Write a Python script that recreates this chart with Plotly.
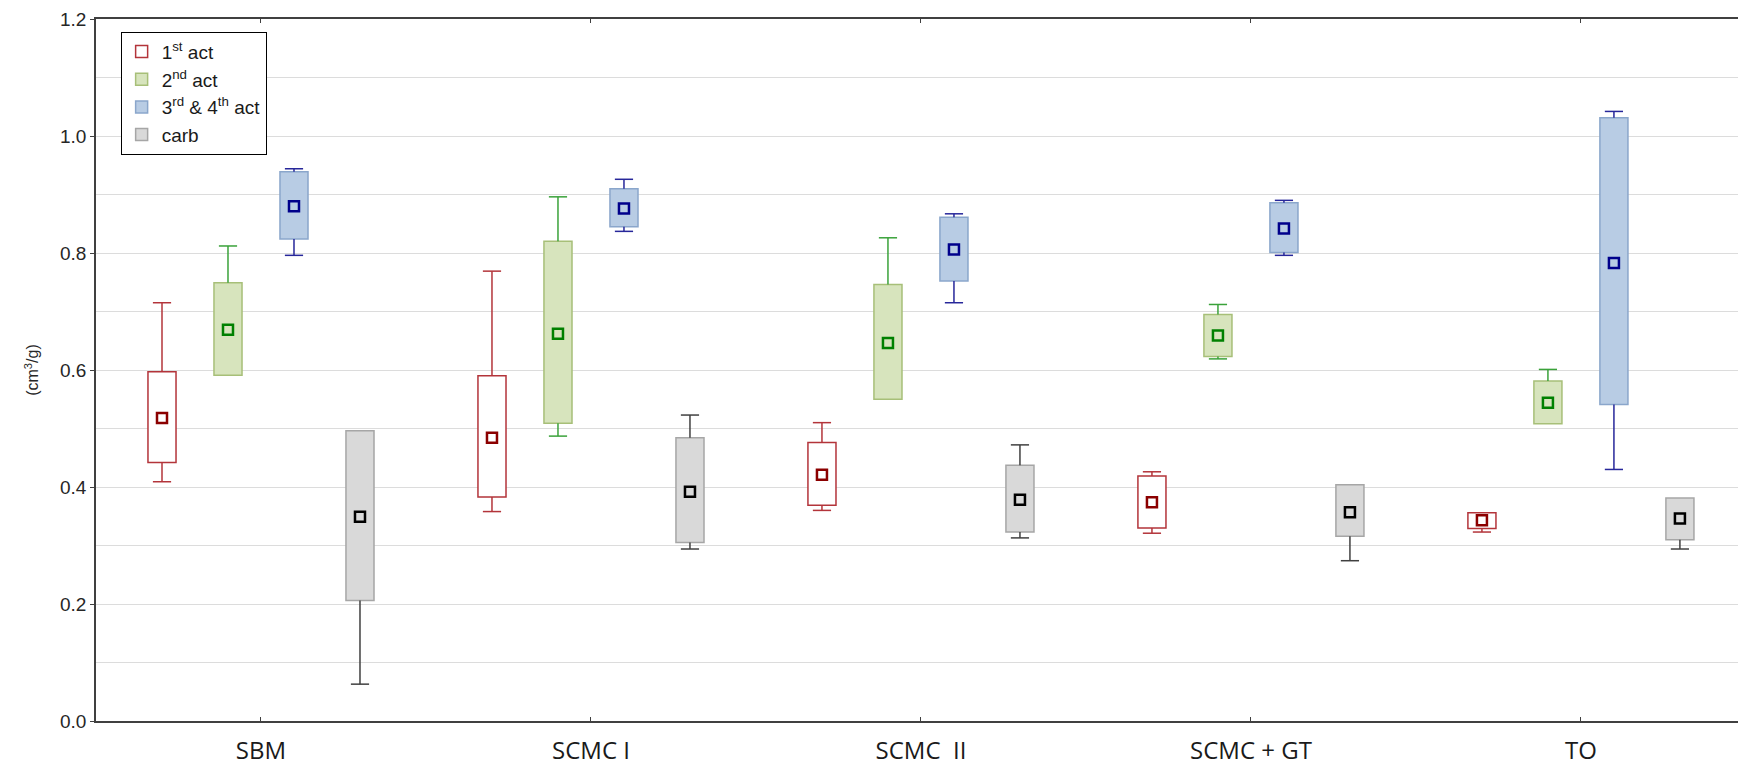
import plotly.graph_objects as go

categories = ["SBM", "SCMC I", "SCMC  II", "SCMC + GT", "TO"]
series_names = ["1<sup>st</sup> act", "2<sup>nd</sup> act", "3<sup>rd</sup> &amp; 4<sup>th</sup> act", "carb"]

# mean, box bottom, box top, whisker min, whisker max (cm3/g)
act1_mean = [0.518, 0.484, 0.421, 0.374, 0.343]
act1_box_low = [0.442, 0.383, 0.369, 0.330, 0.329]
act1_box_high = [0.597, 0.590, 0.476, 0.419, 0.356]
act1_min = [0.409, 0.358, 0.360, 0.321, 0.323]
act1_max = [0.715, 0.769, 0.510, 0.426, 0.356]

act2_mean = [0.669, 0.662, 0.646, 0.659, 0.544]
act2_box_low = [0.591, 0.509, 0.550, 0.623, 0.508]
act2_box_high = [0.749, 0.820, 0.746, 0.695, 0.581]
act2_min = [0.591, 0.487, 0.550, 0.619, 0.508]
act2_max = [0.812, 0.896, 0.826, 0.712, 0.601]

act3_mean = [0.880, 0.876, 0.806, 0.842, 0.783]
act3_box_low = [0.824, 0.845, 0.752, 0.801, 0.541]
act3_box_high = [0.939, 0.910, 0.861, 0.886, 1.031]
act3_min = [0.796, 0.837, 0.715, 0.796, 0.430]
act3_max = [0.944, 0.926, 0.867, 0.890, 1.042]

carb_mean = [0.349, 0.392, 0.378, 0.357, 0.346]
carb_box_low = [0.206, 0.305, 0.323, 0.316, 0.310]
carb_box_high = [0.496, 0.484, 0.437, 0.404, 0.381]
carb_min = [0.063, 0.294, 0.313, 0.274, 0.294]
carb_max = [0.496, 0.523, 0.472, 0.404, 0.381]

series = [
    (act1_mean, act1_box_low, act1_box_high, act1_min, act1_max),
    (act2_mean, act2_box_low, act2_box_high, act2_min, act2_max),
    (act3_mean, act3_box_low, act3_box_high, act3_min, act3_max),
    (carb_mean, carb_box_low, carb_box_high, carb_min, carb_max),
]

# styles
fills = ["#FFFFFF", "#D7E4BD", "#B8CCE4", "#D9D9D9"]
outlines = ["#B3343A", "#A7BF78", "#8AA6CB", "#A6A6A6"]
whiskers = ["#B3343A", "#3AA23A", "#27279A", "#404040"]
markers = ["#8B0000", "#008000", "#00008B", "#000000"]
offsets = [-0.3, -0.1, 0.1, 0.3]
box_w = 0.085

fig = go.Figure()
# box bodies
for k, (mean, lo, hi, mn, mx) in enumerate(series):
    xs = [i + offsets[k] for i in range(len(categories))]
    fig.add_trace(go.Bar(
        x=xs, base=lo, y=[h - l for l, h in zip(lo, hi)], width=box_w,
        marker=dict(color=fills[k], line=dict(color=outlines[k], width=1.5)),
        name=series_names[k], showlegend=True, hoverinfo="skip",
    ))
# whiskers: vertical stems from box edge to min/max, plus caps
for k, (mean, lo, hi, mn, mx) in enumerate(series):
    xs = [i + offsets[k] for i in range(len(categories))]
    wx, wy, cx, cy = [], [], [], []
    for x, l, h, a, b in zip(xs, lo, hi, mn, mx):
        if b > h:
            wx += [x, x, None]
            wy += [h, b, None]
            cx.append(x)
            cy.append(b)
        if a < l:
            wx += [x, x, None]
            wy += [l, a, None]
            cx.append(x)
            cy.append(a)
    fig.add_trace(go.Scatter(
        x=wx, y=wy, mode="lines", line=dict(color=whiskers[k], width=1.5),
        showlegend=False, hoverinfo="skip",
    ))
    fig.add_trace(go.Scatter(
        x=cx, y=cy, mode="markers",
        marker=dict(symbol="line-ew", size=13, line=dict(color=whiskers[k], width=1.5)),
        showlegend=False, hoverinfo="skip",
    ))
# means
for k, (mean, lo, hi, mn, mx) in enumerate(series):
    xs = [i + offsets[k] for i in range(len(categories))]
    fig.add_trace(go.Scatter(
        x=xs, y=mean, mode="markers",
        marker=dict(symbol="square", size=10, color=fills[k],
                    line=dict(color=markers[k], width=2.5)),
        showlegend=False,
    ))

axis_col = "#404040"
fig.update_layout(
    width=1738, height=768,
    margin=dict(l=96, r=0, t=19, b=47),
    paper_bgcolor="white", plot_bgcolor="white",
    barmode="overlay",
    showlegend=True,
    legend=dict(
        x=0.015, y=0.982, xanchor="left", yanchor="top",
        bordercolor="#000000", borderwidth=1, bgcolor="white",
        font=dict(family="Liberation Sans, Arial", size=19, color="#1a1a1a"),
        tracegroupgap=0, itemwidth=30,
    ),
    xaxis=dict(
        range=[-0.5, 4.476], tickvals=list(range(len(categories))), ticktext=categories,
        showline=True, linecolor=axis_col, linewidth=1.5, mirror="ticks",
        ticks="inside", ticklen=4, tickcolor=axis_col, showgrid=False, zeroline=False,
        tickfont=dict(family="Open Sans", size=24, color="#1a1a1a"),
        ticklabelstandoff=7,
    ),
    yaxis=dict(
        range=[0, 1.2], dtick=0.2, tickformat=".1f",
        showline=True, linecolor=axis_col, linewidth=1.5,
        ticks="outside", ticklen=4, tickcolor=axis_col,
        showgrid=True, gridcolor="#DCDCDC", gridwidth=1,
        minor=dict(dtick=0.1, showgrid=True, gridcolor="#DCDCDC", gridwidth=1),
        zeroline=False,
        tickfont=dict(family="Liberation Sans, Arial", size=19, color="#262626"),
        title=dict(text="(cm<sup>3</sup>/g)", standoff=17,
                   font=dict(family="Liberation Sans, Arial", size=16, color="#262626")),
    ),
)

fig.write_html("out.html", config={"displayModeBar": False},
               post_script="document.body.style.margin='0';document.body.style.overflow='hidden';")
